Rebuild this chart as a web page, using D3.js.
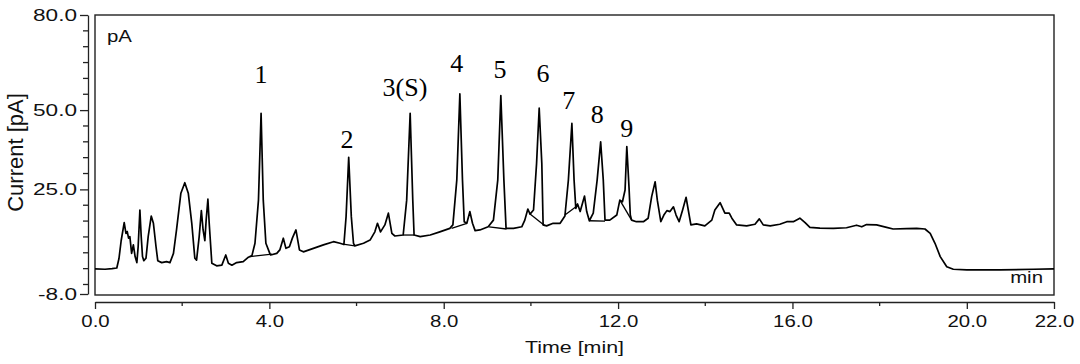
<!DOCTYPE html>
<html>
<head>
<meta charset="utf-8">
<script src="https://cdn.jsdelivr.net/npm/d3@7"></script>
<style>
  html, body { margin: 0; padding: 0; background: #fff; }
  svg { display: block; }
  .axis text { font-family: "Liberation Sans", Arial, sans-serif; font-size: 17px; fill: #111; }
  .axis path, .axis line { stroke: #222; stroke-width: 1.3; }
</style>
</head>
<body>
<svg id="chart" width="1080" height="364"></svg>
<script>
// ── Data ───────────────────────────────────────────────────────────────────────
const times = [
  0, 0.23, 0.39, 0.50, 0.55, 0.60, 0.67, 0.71, 0.74, 0.77, 0.80, 0.84, 0.88, 0.92, 0.96, 0.99,
  1.03, 1.06, 1.09, 1.12, 1.17, 1.22, 1.29, 1.34, 1.40, 1.44, 1.53, 1.64, 1.72, 1.80, 1.87, 1.97,
  2.06, 2.14, 2.22, 2.29, 2.33, 2.39, 2.44, 2.48, 2.52, 2.55, 2.59, 2.62, 2.68, 2.79, 2.91, 3.00,
  3.06, 3.14, 3.25, 3.40, 3.52, 3.60, 3.67, 3.75, 3.81, 3.86, 3.92, 4.01, 4.03, 4.17, 4.24, 4.32,
  4.38, 4.46, 4.53, 4.61, 4.69, 4.78, 5.01, 5.24, 5.47, 5.62, 5.71, 5.76, 5.82, 5.88, 5.93, 5.96,
  6.16, 6.31, 6.42, 6.48, 6.55, 6.65, 6.73, 6.81, 6.88, 7.07, 7.15, 7.23, 7.29, 7.32, 7.46, 7.69,
  7.91, 8.14, 8.21, 8.30, 8.37, 8.43, 8.47, 8.53, 8.60, 8.66, 8.72, 8.83, 9.02, 9.14, 9.24, 9.31,
  9.38, 9.43, 9.60, 9.79, 9.86, 9.93, 9.98, 10.06, 10.13, 10.19, 10.25, 10.28, 10.36, 10.51, 10.67, 10.78,
  10.86, 10.94, 10.99, 11.03, 11.07, 11.13, 11.23, 11.28, 11.34, 11.43, 11.52, 11.60, 11.66, 11.70, 11.81, 11.97,
  12.04, 12.10, 12.16, 12.20, 12.25, 12.28, 12.31, 12.42, 12.58, 12.69, 12.77, 12.85, 12.90, 12.98, 13.05, 13.12,
  13.19, 13.27, 13.33, 13.40, 13.48, 13.56, 13.61, 13.67, 13.80, 13.99, 14.15, 14.22, 14.34, 14.45, 14.55, 14.61,
  14.72, 14.95, 15.14, 15.24, 15.33, 15.49, 15.71, 15.87, 16.02, 16.17, 16.29, 16.40, 16.63, 16.94, 17.24, 17.47,
  17.59, 17.70, 17.93, 18.16, 18.31, 18.62, 18.85, 19.04, 19.16, 19.27, 19.39, 19.54, 19.69, 20.00, 20.76, 21.53,
  22.0
]
const currents = [
  -0.1, -0.2, 0.0, 0.2, 3.2, 8.8, 14.5, 11.1, 11.7, 9.6, 10.1, 4.8, 7.5, 3.8, 1.9, 6.9,
  18.5, 10.1, 3.8, 2.5, 3.3, 10.1, 16.6, 14.3, 6.9, 2.5, 1.9, 2.2, 1.9, 4.8, 12.2, 23.8,
  27.1, 23.8, 14.3, 3.3, 2.7, 10.1, 18.3, 12.2, 8.8, 15.3, 21.9, 14.3, 1.7, 0.9, 1.1, 4.3,
  1.7, 1.1, 1.9, 2.2, 3.6, 4.1, 8.0, 21.6, 49.0, 21.6, 8.0, 4.8, 4.3, 4.8, 5.9, 9.6,
  6.4, 6.9, 9.7, 12.2, 5.9, 5.3, 6.4, 7.5, 8.5, 8.0, 7.6, 16.4, 35.1, 16.4, 8.0, 7.2,
  8.0, 9.0, 11.6, 14.3, 11.6, 13.8, 17.5, 11.1, 10.3, 10.6, 21.6, 49.0, 21.6, 10.6, 10.1, 10.6,
  11.6, 12.7, 13.8, 28.0, 55.1, 28.0, 14.8, 14.3, 18.0, 14.3, 12.0, 12.2, 13.2, 15.3, 28.0, 54.6,
  28.0, 12.7, 12.7, 13.2, 15.3, 18.8, 17.2, 18.5, 33.2, 50.6, 33.2, 13.8, 13.5, 14.3, 14.3, 16.6,
  28.0, 45.8, 28.0, 19.0, 20.4, 18.0, 22.9, 18.0, 15.1, 17.5, 28.0, 40.0, 28.0, 15.3, 15.3, 16.9,
  21.6, 21.1, 24.8, 38.5, 25.8, 16.9, 15.3, 14.8, 14.8, 15.9, 22.7, 27.4, 21.6, 14.8, 16.9, 18.3,
  18.0, 19.5, 16.9, 14.8, 18.5, 22.5, 18.5, 13.8, 14.1, 13.5, 15.3, 18.5, 20.8, 17.5, 17.5, 15.9,
  13.8, 13.5, 14.0, 15.7, 13.8, 13.5, 14.0, 14.8, 14.8, 15.9, 14.5, 13.0, 12.8, 12.7, 12.9, 13.7,
  13.2, 13.9, 13.8, 13.0, 12.5, 12.6, 12.7, 12.5, 11.1, 8.0, 3.8, 0.6, -0.2, -0.4, -0.4, -0.2,
  -0.1
]

// integration baselines under the numbered peaks: [t0, v0, t1, v1]
const baselines = [
  [3.56, 3.8, 4.06, 4.6],
  [5.69, 7.7, 5.96, 7.2],
  [7.07, 10.6, 7.32, 10.6],
  [8.18, 12.7, 8.53, 14.3],
  [9.04, 13.2, 9.44, 12.5],
  [9.98, 17.2, 10.32, 13.5],
  [10.78, 16.9, 11.08, 20.0],
  [11.34, 15.1, 11.70, 15.0],
  [12.04, 21.6, 12.31, 15.3]
]

const peakNames  = ['1', '2', '3(S)', '4', '5', '6', '7', '8', '9']
const peakTimes  = [3.81, 5.78, 7.11, 8.30, 9.29, 10.28, 10.87, 11.52, 12.20]
const peakLabelV = [58.6, 38.0, 54.5, 62.0, 60.1, 58.9, 50.4, 45.9, 41.5]

const xMajor = [0, 4, 8, 12, 16, 20, 22]
const xMinor = [2, 6, 10, 14, 18]
const yMajor = [-8, 25, 50, 80]
const yMinor = [-5, 0, 5, 10, 15, 20, 30, 35, 40, 45, 55, 60, 65, 70, 75]

// ── Helpers ───────────────────────────────────────────────────────────────────
const SANS = '"Liberation Sans", Arial, sans-serif'
const fmt = v => v.toFixed(1)   // plain hyphen for negatives, like the original

// the original's sans text is drawn wider than normal; move x/y into a transform and stretch
function stretch(sel, sx) {
  sel.each(function () {
    const t = d3.select(this)
    const px = +t.attr('x') || 0
    const py = +t.attr('y') || 0
    t.attr('x', 0).attr('y', 0)
      .attr('transform', `translate(${px},${py}) scale(${sx},1)`)
  })
}

// ── Scales ────────────────────────────────────────────────────────────────────
const svg = d3.select('#chart')
const x = d3.scaleLinear().domain([0, 22]).range([95, 1054])
const y = d3.scaleLinear().domain([-8, 80]).range([294, 15])

// ── Axes ──────────────────────────────────────────────────────────────────────
const yAxis = svg.append('g').attr('class', 'axis').attr('transform', 'translate(88,0)')
  .call(d3.axisLeft(y).tickValues(yMajor).tickFormat(fmt).tickSize(8).tickSizeOuter(0))
stretch(yAxis.selectAll('.tick text'), 1.33)
yAxis.selectAll('.minor').data(yMinor).enter().append('line')
  .attr('class', 'minor').attr('x1', -5).attr('x2', 0)
  .attr('y1', d => y(d)).attr('y2', d => y(d))

const xAxis = svg.append('g').attr('class', 'axis').attr('transform', 'translate(0,302)')
  .call(d3.axisBottom(x).tickValues(xMajor).tickFormat(fmt).tickSize(7).tickSizeOuter(0))
xAxis.selectAll('.tick text').attr('dy', '0.88em')
stretch(xAxis.selectAll('.tick text'), 1.2)
xAxis.selectAll('.minor').data(xMinor).enter().append('line')
  .attr('class', 'minor').attr('y1', 0).attr('y2', 4)
  .attr('x1', d => x(d)).attr('x2', d => x(d))

// axis titles
svg.append('text')
  .attr('transform', `translate(23,${(y(80) + y(-8)) / 2 - 2}) rotate(-90)`)
  .attr('text-anchor', 'middle')
  .style('font-family', SANS).style('font-size', '22px')
  .attr('fill', '#111')
  .text('Current [pA]')

svg.append('text')
  .attr('x', (x(0) + x(22)) / 2).attr('y', 353)
  .attr('text-anchor', 'middle')
  .style('font-family', SANS).style('font-size', '17px')
  .attr('fill', '#111')
  .text('Time [min]')
  .call(stretch, 1.26)

// ── Plot frame ────────────────────────────────────────────────────────────────
svg.append('rect')
  .attr('x', x(0)).attr('y', 15)
  .attr('width', x(22) - x(0)).attr('height', 295 - 15)
  .attr('fill', 'none').attr('stroke', '#222').attr('stroke-width', 1.4)

svg.append('text').attr('x', 107).attr('y', 42)
  .style('font-family', SANS).style('font-size', '17px')
  .attr('fill', '#111').text('pA')
  .call(stretch, 1.2)

svg.append('text').attr('x', 1043).attr('y', 283).attr('text-anchor', 'end')
  .style('font-family', SANS).style('font-size', '17px')
  .attr('fill', '#111').text('min')
  .call(stretch, 1.2)

// ── Trace ─────────────────────────────────────────────────────────────────────
const points = times.map((t, i) => [t, currents[i]])
const line = d3.line().x(d => x(d[0])).y(d => y(d[1]))

svg.append('path')
  .datum(points)
  .attr('d', line)
  .attr('fill', 'none')
  .attr('stroke', '#000')
  .attr('stroke-width', 1.7)
  .attr('stroke-linejoin', 'round')

svg.selectAll('.baseline').data(baselines).enter().append('line')
  .attr('class', 'baseline')
  .attr('x1', d => x(d[0])).attr('y1', d => y(d[1]))
  .attr('x2', d => x(d[2])).attr('y2', d => y(d[3]))
  .attr('stroke', '#000').attr('stroke-width', 1.3)

// ── Peak labels ───────────────────────────────────────────────────────────────
svg.selectAll('.peak-label').data(peakNames).enter().append('text')
  .attr('class', 'peak-label')
  .attr('x', (d, i) => x(peakTimes[i]))
  .attr('y', (d, i) => y(peakLabelV[i]))
  .attr('text-anchor', 'middle')
  .style('font-family', '"Liberation Serif", "Times New Roman", serif')
  .style('font-size', '26px')
  .attr('fill', '#000')
  .text(d => d)
</script>
</body>
</html>
